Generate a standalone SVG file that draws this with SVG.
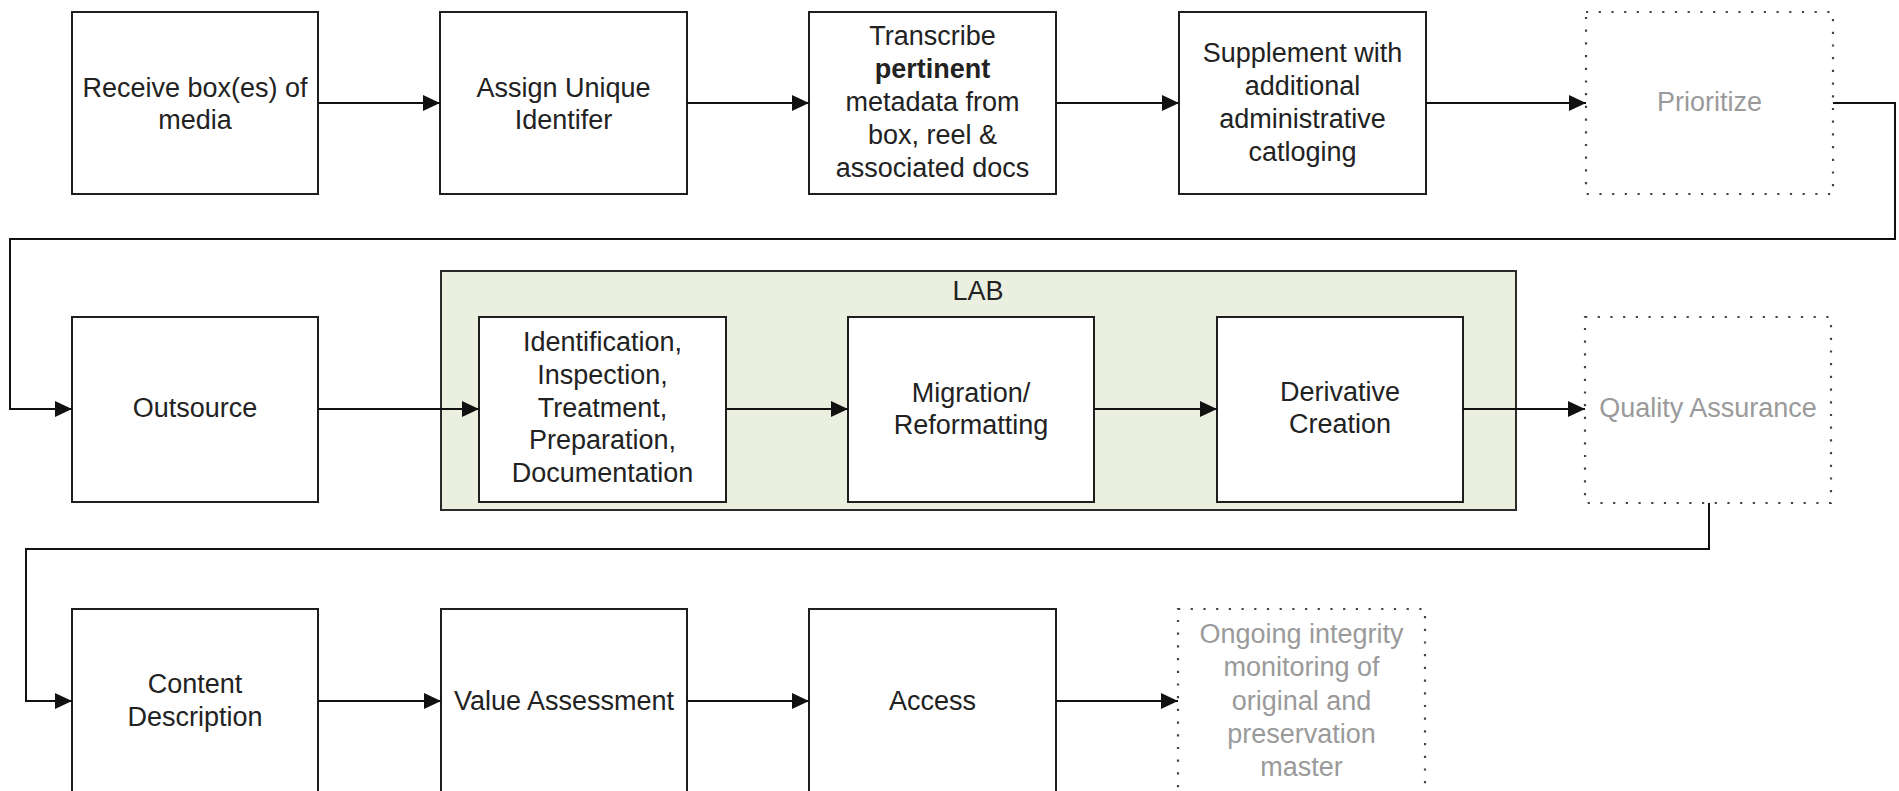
<svg xmlns="http://www.w3.org/2000/svg" width="1899" height="791" viewBox="0 0 1899 791">
  <style>
    .box { fill: #ffffff; stroke: #1e1e1e; stroke-width: 2; }
    .dotted { fill: #ffffff; stroke: #444444; stroke-width: 2.2; stroke-dasharray: 2.2 10.5; }
    .lab { fill: #ebefdf; stroke: #2a2a2a; stroke-width: 2; }
    .label { font-family: "Liberation Sans", Arial, sans-serif; font-size: 27px; fill: #222222; text-anchor: middle; }
    .faint { fill: #9a9a9a; }
    .bold { font-weight: bold; }
    .conn { fill: none; stroke: #111111; stroke-width: 2; }
  </style>
  <defs>
    <marker id="arrow" markerUnits="userSpaceOnUse" markerWidth="18" markerHeight="17" refX="17" refY="8" orient="auto">
      <path d="M0,0 L17,8 L0,16 Z" fill="#111111"/>
    </marker>
  </defs>

  <rect width="1899" height="791" fill="#ffffff"/>

  <!-- LAB container -->
  <g id="lab">
    <rect class="lab" x="441" y="271" width="1075" height="239"/>
    <text class="label" x="978" y="300">LAB</text>
  </g>

  <!-- row 1 -->
  <g id="receive">
    <rect class="box" x="72" y="12" width="246" height="182"/>
    <text class="label" x="195" y="97">Receive box(es) of</text>
    <text class="label" x="195" y="129">media</text>
  </g>
  <g id="assign">
    <rect class="box" x="440" y="12" width="247" height="182"/>
    <text class="label" x="563.5" y="97">Assign Unique</text>
    <text class="label" x="563.5" y="129">Identifer</text>
  </g>
  <g id="transcribe">
    <rect class="box" x="809" y="12" width="247" height="182"/>
    <text class="label" x="932.5" y="45">Transcribe</text>
    <text class="label bold" x="932.5" y="78">pertinent</text>
    <text class="label" x="932.5" y="111">metadata from</text>
    <text class="label" x="932.5" y="144">box, reel &amp;</text>
    <text class="label" x="932.5" y="177">associated docs</text>
  </g>
  <g id="supplement">
    <rect class="box" x="1179" y="12" width="247" height="182"/>
    <text class="label" x="1302.5" y="62">Supplement with</text>
    <text class="label" x="1302.5" y="95">additional</text>
    <text class="label" x="1302.5" y="128">administrative</text>
    <text class="label" x="1302.5" y="161">catloging</text>
  </g>
  <g id="prioritize">
    <rect class="dotted" x="1586" y="12" width="247" height="182"/>
    <text class="label faint" x="1709.5" y="111">Prioritize</text>
  </g>

  <!-- row 2 -->
  <g id="outsource">
    <rect class="box" x="72" y="317" width="246" height="185"/>
    <text class="label" x="195" y="417">Outsource</text>
  </g>
  <g id="identification">
    <rect class="box" x="479" y="317" width="247" height="185"/>
    <text class="label" x="602.5" y="351">Identification,</text>
    <text class="label" x="602.5" y="384">Inspection,</text>
    <text class="label" x="602.5" y="416.5">Treatment,</text>
    <text class="label" x="602.5" y="449">Preparation,</text>
    <text class="label" x="602.5" y="481.5">Documentation</text>
  </g>
  <g id="migration">
    <rect class="box" x="848" y="317" width="246" height="185"/>
    <text class="label" x="971" y="401.5">Migration/</text>
    <text class="label" x="971" y="433.5">Reformatting</text>
  </g>
  <g id="derivative">
    <rect class="box" x="1217" y="317" width="246" height="185"/>
    <text class="label" x="1340" y="400.5">Derivative</text>
    <text class="label" x="1340" y="433">Creation</text>
  </g>
  <g id="quality">
    <rect class="dotted" x="1585" y="317" width="246" height="186"/>
    <text class="label faint" x="1708" y="416.5">Quality Assurance</text>
  </g>

  <!-- row 3 -->
  <g id="content">
    <rect class="box" x="72" y="609" width="246" height="185"/>
    <text class="label" x="195" y="693">Content</text>
    <text class="label" x="195" y="726">Description</text>
  </g>
  <g id="value">
    <rect class="box" x="441" y="609" width="246" height="185"/>
    <text class="label" x="564" y="710">Value Assessment</text>
  </g>
  <g id="access">
    <rect class="box" x="809" y="609" width="247" height="185"/>
    <text class="label" x="932.5" y="710">Access</text>
  </g>
  <g id="ongoing">
    <rect class="dotted" x="1178" y="609" width="247" height="185"/>
    <text class="label faint" x="1301.5" y="643">Ongoing integrity</text>
    <text class="label faint" x="1301.5" y="676">monitoring of</text>
    <text class="label faint" x="1301.5" y="710">original and</text>
    <text class="label faint" x="1301.5" y="743">preservation</text>
    <text class="label faint" x="1301.5" y="776">master</text>
  </g>

  <!-- connectors -->
  <g id="connectors">
    <path class="conn" marker-end="url(#arrow)" d="M318,103 H440"/>
    <path class="conn" marker-end="url(#arrow)" d="M687,103 H809"/>
    <path class="conn" marker-end="url(#arrow)" d="M1056,103 H1179"/>
    <path class="conn" marker-end="url(#arrow)" d="M1426,103 H1586"/>
    <path class="conn" marker-end="url(#arrow)" d="M1833,103 H1895 V239 H10 V409 H72"/>
    <path class="conn" marker-end="url(#arrow)" d="M318,409 H479"/>
    <path class="conn" marker-end="url(#arrow)" d="M726,409 H848"/>
    <path class="conn" marker-end="url(#arrow)" d="M1094,409 H1217"/>
    <path class="conn" marker-end="url(#arrow)" d="M1463,409 H1585"/>
    <path class="conn" marker-end="url(#arrow)" d="M1709,503 V549 H26 V701 H72"/>
    <path class="conn" marker-end="url(#arrow)" d="M318,701 H441"/>
    <path class="conn" marker-end="url(#arrow)" d="M687,701 H809"/>
    <path class="conn" marker-end="url(#arrow)" d="M1056,701 H1178"/>
  </g>
</svg>
